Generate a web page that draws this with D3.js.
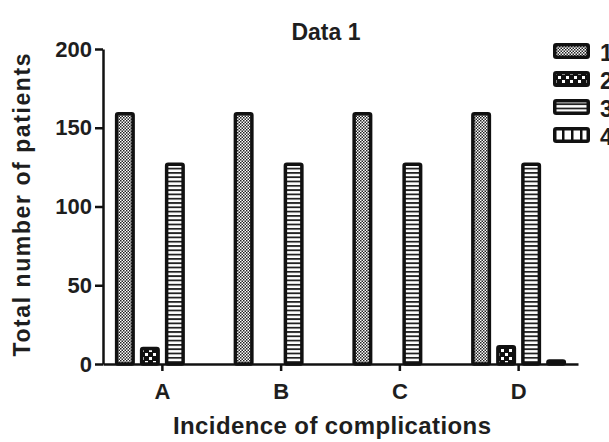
<!DOCTYPE html>
<html>
<head>
<meta charset="utf-8">
<script src="https://cdn.jsdelivr.net/npm/d3@7"></script>
<style>
  body { margin: 0; background: #fff; }
  text { font-family: "Liberation Sans", Arial, sans-serif; font-weight: bold; fill: #1e1e1e; }
</style>
</head>
<body>
<svg id="chart" width="609" height="442"></svg>
<script>
let categories = ["A", "B", "C", "D"];
let seriesNames = ["1", "2", "3", "4"];
let series1 = [160, 160, 160, 160];
let series2 = [11, 0, 0, 12];
let series3 = [128, 128, 128, 128];
let series4 = [0, 0, 0, 3];
let yTicks = [0, 50, 100, 150, 200];

let allSeries = [series1, series2, series3, series4];

window.addEventListener('load', e => {
    drawChart();
});

function drawChart() {
    let svg = d3.select("#chart");
    let left = 103, right = 578, top = 49, bottom = 364;
    let sw = 3.5;

    // fill patterns for the four series
    let defs = svg.append("defs");
    let p1 = defs.append("pattern").attr("id", "pat0").attr("patternUnits", "userSpaceOnUse")
        .attr("width", 3).attr("height", 3);
    p1.append("rect").attr("width", 3).attr("height", 3).attr("fill", "#fff");
    p1.append("rect").attr("width", 1.5).attr("height", 1.5).attr("fill", "#222");
    p1.append("rect").attr("x", 1.5).attr("y", 1.5).attr("width", 1.5).attr("height", 1.5).attr("fill", "#222");

    let p2 = defs.append("pattern").attr("id", "pat1").attr("patternUnits", "userSpaceOnUse")
        .attr("width", 8).attr("height", 8);
    p2.append("rect").attr("width", 8).attr("height", 8).attr("fill", "#111");
    p2.append("rect").attr("x", 1).attr("y", 1).attr("width", 3).attr("height", 3).attr("fill", "#fff");
    p2.append("rect").attr("x", 5).attr("y", 5).attr("width", 3).attr("height", 3).attr("fill", "#fff");

    let p3 = defs.append("pattern").attr("id", "pat2").attr("patternUnits", "userSpaceOnUse")
        .attr("width", 4.3).attr("height", 4.3);
    p3.append("rect").attr("width", 4.3).attr("height", 4.3).attr("fill", "#fff");
    p3.append("rect").attr("width", 4.3).attr("height", 1.8).attr("fill", "#222");

    let p4 = defs.append("pattern").attr("id", "pat3").attr("patternUnits", "userSpaceOnUse")
        .attr("width", 9).attr("height", 9);
    p4.append("rect").attr("width", 9).attr("height", 9).attr("fill", "#fff");
    p4.append("rect").attr("width", 2.5).attr("height", 9).attr("fill", "#111");

    let xScale = d3.scaleBand().domain(categories).range([left, right]).padding(0);
    let x1 = d3.scaleBand().domain(seriesNames).range([-50, 50]).paddingInner(0.2).paddingOuter(0.1);
    let yScale = d3.scaleLinear().domain([0, 200]).range([bottom, top]);

    let rows = [];
    allSeries.forEach((vals, si) => {
        vals.forEach((v, ci) => {
            if (v > 0) rows.push({ s: seriesNames[si], si: si, c: categories[ci], v: v });
        });
    });

    svg.append("g").selectAll("rect")
        .data(rows)
        .enter()
        .append("rect")
        .attr("x", d => xScale(d.c) + xScale.bandwidth() / 2 + x1(d.s) + sw / 2)
        .attr("y", d => yScale(d.v) + sw / 2)
        .attr("width", x1.bandwidth() - sw)
        .attr("height", d => Math.max(0.5, yScale(0) - yScale(d.v) - sw / 2))
        .attr("rx", 1.5)
        .attr("fill", d => "url(#pat" + d.si + ")")
        .attr("stroke", "#111")
        .attr("stroke-width", sw);

    // axes
    let yAxis = svg.append("g")
        .attr("transform", "translate(" + left + ",0)")
        .call(d3.axisLeft(yScale).tickValues(yTicks).tickSize(8).tickPadding(3).tickSizeOuter(0));
    yAxis.select(".domain").attr("stroke", "#111").attr("stroke-width", 2.5);
    yAxis.selectAll(".tick line").attr("stroke", "#111").attr("stroke-width", 2.5);
    yAxis.selectAll(".tick text").style("font-size", "22px").attr("fill", "#1e1e1e");

    let xAxis = svg.append("g")
        .attr("transform", "translate(0," + bottom + ")")
        .call(d3.axisBottom(xScale).tickSize(7).tickPadding(12).tickSizeOuter(0));
    xAxis.select(".domain").attr("stroke", "#111").attr("stroke-width", 2.5);
    xAxis.selectAll(".tick line").attr("stroke", "#111").attr("stroke-width", 2.5);
    xAxis.selectAll(".tick text").style("font-size", "22px").attr("fill", "#1e1e1e");

    // title and axis labels
    svg.append("text").attr("x", 326).attr("y", 40).attr("text-anchor", "middle")
        .style("font-size", "23px").text("Data 1");
    svg.append("text").attr("x", 332).attr("y", 434).attr("text-anchor", "middle")
        .style("font-size", "24px").attr("textLength", 318).attr("lengthAdjust", "spacing")
        .text("Incidence of complications");
    svg.append("text").attr("transform", "translate(30,205) rotate(-90)")
        .attr("text-anchor", "middle").style("font-size", "23px")
        .attr("textLength", 303).attr("lengthAdjust", "spacing")
        .text("Total number of patients");

    // legend
    let legend = svg.append("g").selectAll("g")
        .data(seriesNames)
        .enter()
        .append("g")
        .attr("transform", (d, i) => "translate(553," + (43 + i * 28) + ")");
    legend.append("rect")
        .attr("x", sw / 2).attr("y", sw / 2)
        .attr("width", 37 - sw).attr("height", 16 - sw)
        .attr("rx", 1.5)
        .attr("fill", (d, i) => "url(#pat" + i + ")")
        .attr("stroke", "#111").attr("stroke-width", sw);
    legend.append("text").attr("x", 47).attr("y", 18).style("font-size", "23px").text(d => d);
}
</script>
</body>
</html>
